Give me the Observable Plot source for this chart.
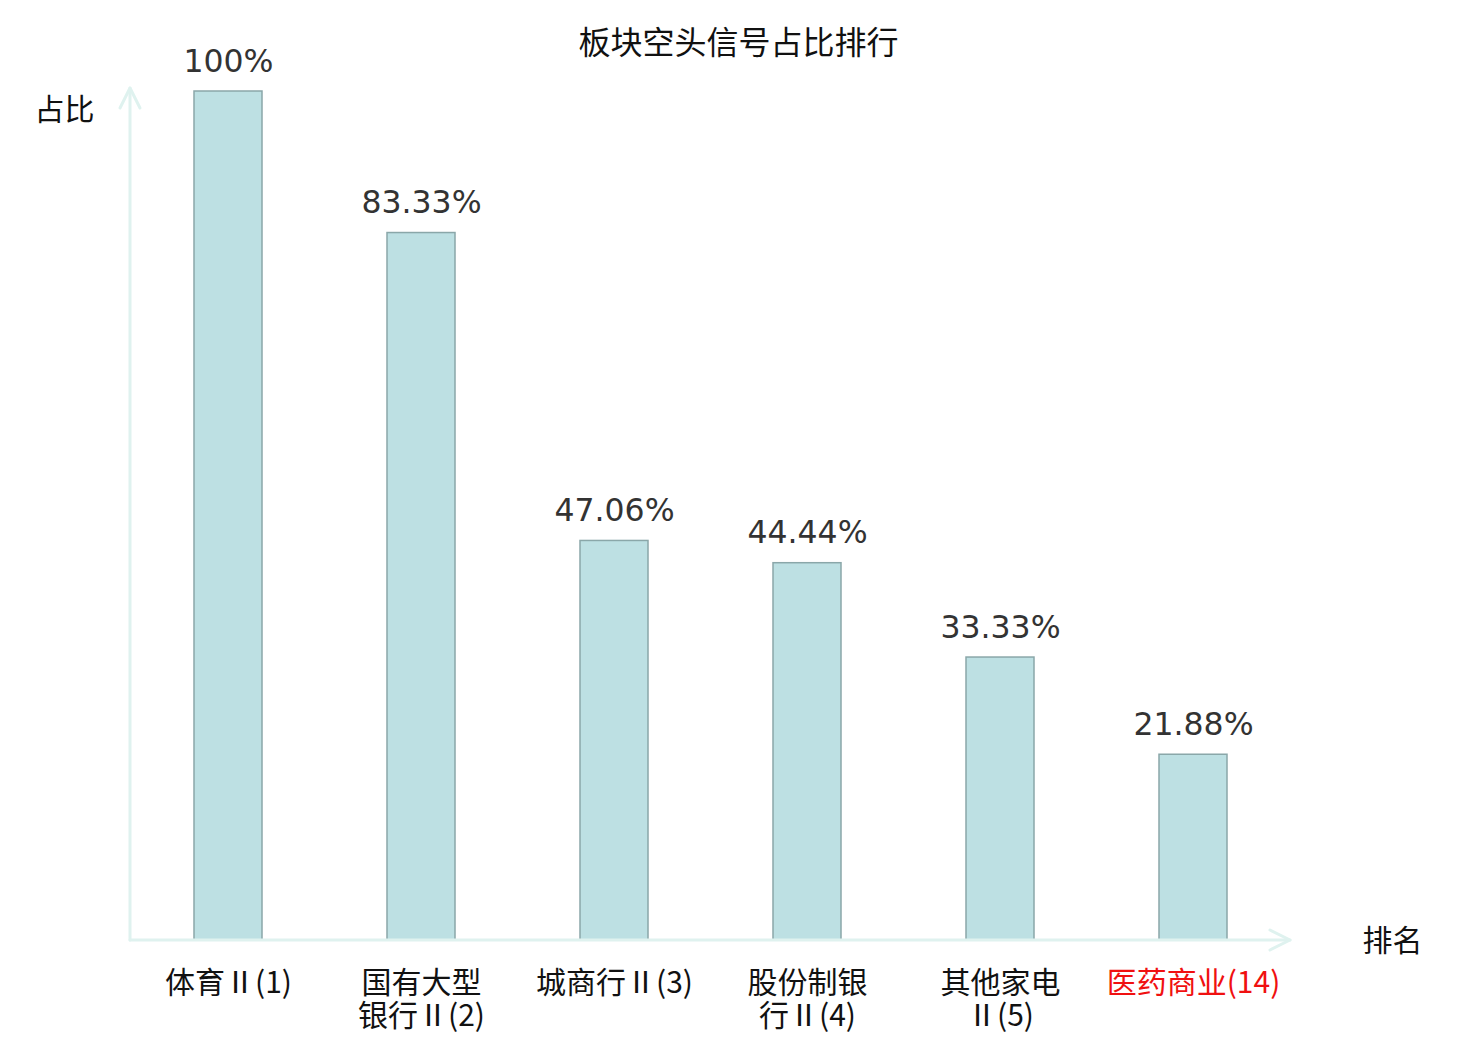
<!DOCTYPE html>
<html>
<head>
<meta charset="utf-8">
<script src="https://cdn.jsdelivr.net/npm/d3@7"></script>
<script src="https://cdn.jsdelivr.net/npm/@observablehq/plot@0.6"></script>
<style>
  html, body { margin: 0; padding: 0; background: #fff; }
  #chart svg { display: block; }
</style>
</head>
<body>
<div id="chart"></div>
<script>
const categories = ["体育Ⅱ(1)", "国有大型银行Ⅱ(2)", "城商行Ⅱ(3)", "股份制银行Ⅱ(4)", "其他家电Ⅱ(5)", "医药商业(14)"];
const tickLabels = ["体育Ⅱ(1)", "国有大型\n银行Ⅱ(2)", "城商行Ⅱ(3)", "股份制银\n行Ⅱ(4)", "其他家电\nⅡ(5)", "医药商业(14)"];
const values = [1.0, 0.8333, 0.4706, 0.4444, 0.3333, 0.2188];
const valueLabels = ["100%", "83.33%", "47.06%", "44.44%", "33.33%", "21.88%"];
const highlighted = ["医药商业(14)"];

const data = categories.map((c, i) => ({cat: c, tick: tickLabels[i], value: values[i], label: valueLabels[i]}));

const W = 1480, H = 1040;
const mL = 130, mR = 190, mT = 91, mB = 100;
const axisColor = "#dff2ef";
const cjk = "'Noto Sans CJK SC', 'Noto Sans', sans-serif";

function axesMark(index, scales, values, dims) {
  const g = d3.create("svg:g");
  const y0 = scales.y(0);
  const x0 = dims.marginLeft;
  const x1 = dims.width - dims.marginRight;
  const yTop = dims.marginTop - 3;
  const s = g.append("g").attr("stroke", axisColor).attr("stroke-width", 3).attr("fill", "none")
    .attr("stroke-linecap", "round").attr("stroke-linejoin", "round");
  s.append("line").attr("x1", x0).attr("y1", y0).attr("x2", x0).attr("y2", yTop);
  s.append("polyline").attr("points", `${x0 - 10},${yTop + 20} ${x0},${yTop} ${x0 + 10},${yTop + 20}`);
  s.append("line").attr("x1", x0).attr("y1", y0).attr("x2", x1).attr("y2", y0);
  s.append("polyline").attr("points", `${x1 - 20},${y0 - 10} ${x1},${y0} ${x1 - 20},${y0 + 10}`);
  return g.node();
}

const chart = Plot.plot({
  width: W,
  height: H,
  marginLeft: mL,
  marginRight: mR,
  marginTop: mT,
  marginBottom: mB,
  x: {domain: categories, paddingInner: 0.65, paddingOuter: 0.325, axis: null},
  y: {domain: [0, 1], axis: null},
  style: {background: "#fff", overflow: "visible"},
  marks: [
    Plot.barY(data, {x: "cat", y: "value", fill: "#bde0e3", stroke: "#8aa7a9", strokeWidth: 1.5}),
    axesMark,
    Plot.text(data, {x: "cat", y: "value", text: "label", dy: -20, lineAnchor: "bottom",
      fill: "#333", fontSize: 31.5, fontFamily: "'DejaVu Sans', sans-serif"}),
    Plot.text(data, {x: "cat", y: () => 0, text: "tick", dy: 29, lineAnchor: "top", lineHeight: 1.1,
      fill: d => highlighted.includes(d.cat) ? "#f01010" : "#111", fontSize: 30, fontFamily: cjk}),
    Plot.text(["板块空头信号占比排行"], {frameAnchor: "top", dy: -mT + 43, dx: 28, fontSize: 32,
      fill: "#111", fontFamily: cjk, lineAnchor: "middle"}),
    Plot.text(["占比"], {frameAnchor: "top-left", dx: -mL + 34, dy: 19, textAnchor: "start", lineAnchor: "middle",
      fontSize: 30, fill: "#111", fontFamily: cjk}),
    Plot.text(["排名"], {frameAnchor: "bottom-right", dx: mR - 58, dy: 1, textAnchor: "end", lineAnchor: "middle",
      fontSize: 30, fill: "#111", fontFamily: cjk})
  ]
});

document.getElementById("chart").appendChild(chart);
</script>
</body>
</html>
